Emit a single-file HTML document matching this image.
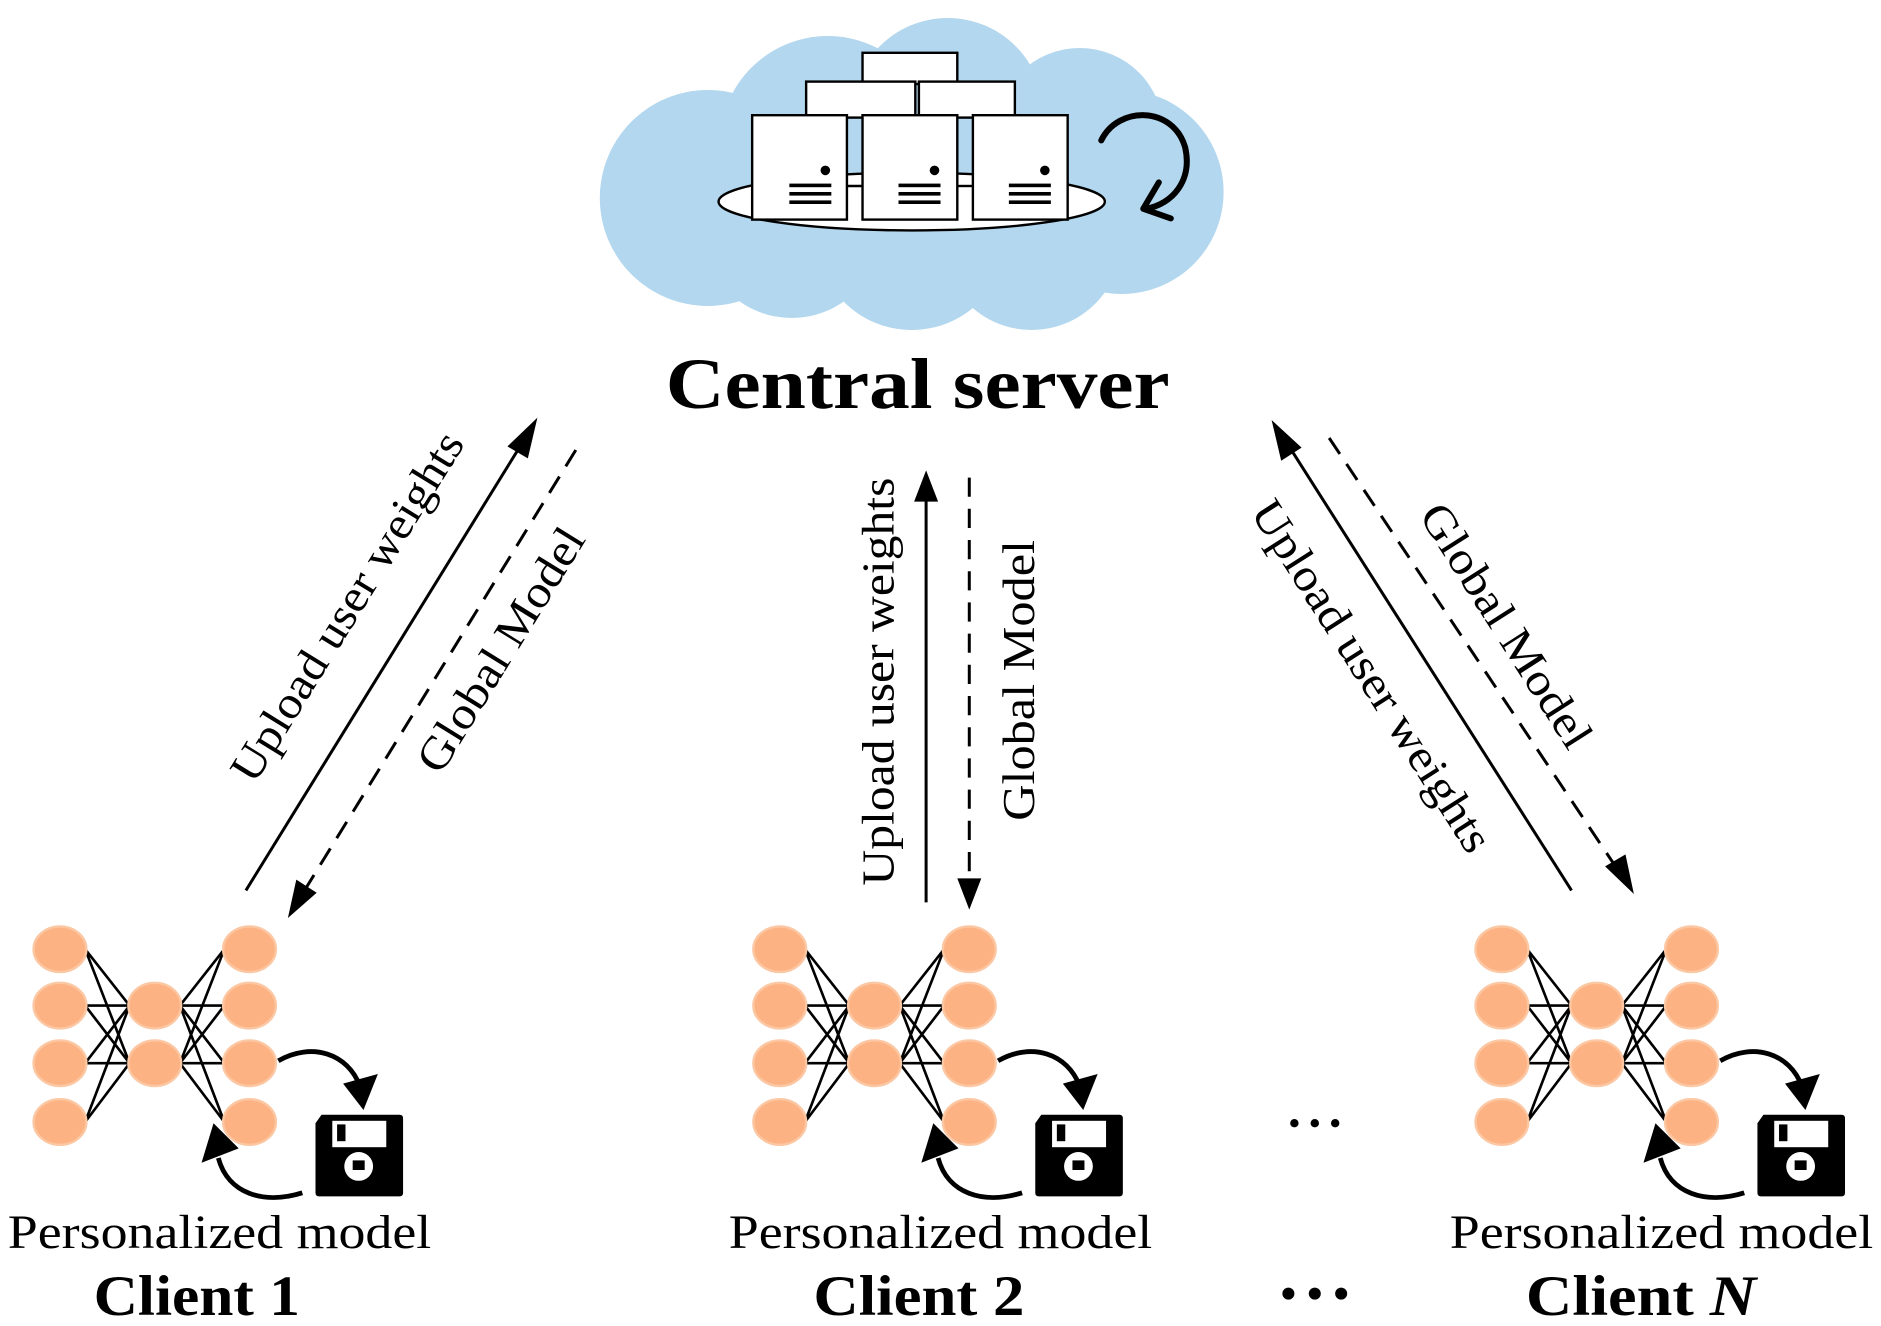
<!DOCTYPE html>
<html><head><meta charset="utf-8"><style>
html,body{margin:0;padding:0;background:#fff;width:1881px;height:1326px;overflow:hidden}
svg{display:block}
text{font-family:"Liberation Serif",serif;fill:#000}
</style></head><body>
<svg width="1881" height="1326" viewBox="0 0 1568 1105" preserveAspectRatio="none" xmlns="http://www.w3.org/2000/svg">
<defs>
<g id="net">
 <g stroke="#000" stroke-width="2.2" fill="none">
  <path d="M71,791 L108,838 M71,791 L108,886 M71,838 L108,838 M71,838 L108,886 M71,886 L108,838 M71,886 L108,886 M71,935 L108,838 M71,935 L108,886"/>
  <path d="M187,791 L150,838 M187,791 L150,886 M187,838 L150,838 M187,838 L150,886 M187,886 L150,838 M187,886 L150,886 M187,935 L150,838 M187,935 L150,886"/>
 </g>
 <g fill="#fdb283" stroke="#fcc7a3" stroke-width="2">
  <ellipse cx="50" cy="791" rx="22" ry="19"/><ellipse cx="50" cy="838" rx="22" ry="19"/>
  <ellipse cx="50" cy="886" rx="22" ry="19"/><ellipse cx="50" cy="935" rx="22" ry="19"/>
  <ellipse cx="129" cy="838" rx="22" ry="19"/><ellipse cx="129" cy="886" rx="22" ry="19"/>
  <ellipse cx="208" cy="791" rx="22" ry="19"/><ellipse cx="208" cy="838" rx="22" ry="19"/>
  <ellipse cx="208" cy="886" rx="22" ry="19"/><ellipse cx="208" cy="935" rx="22" ry="19"/>
 </g>
 <path d="M232,884 C260,868 290,878 300,905" stroke="#000" stroke-width="4" fill="none"/>
 <polygon points="286,903 315,895 303,925" fill="#000"/>
 <path d="M252,994 C220,1004 190,995 182,965" stroke="#000" stroke-width="4" fill="none"/>
 <polygon points="168,969 199,957 178,936" fill="#000"/>
 <path d="M268,929 L333,929 Q336,929 336,932 L336,994 Q336,997 333,997 L266,997 Q263,997 263,994 L263,936 Z" fill="#000"/>
 <rect x="277" y="934" width="45" height="22" fill="#fff"/>
 <rect x="281" y="937" width="7" height="14" fill="#000"/>
 <circle cx="299" cy="972" r="12" fill="#fff"/>
 <rect x="294" y="967" width="10" height="8" fill="#000"/>
</g>
</defs>

<g fill="#b3d7ee">
 <circle cx="590" cy="165" r="90"/>
 <circle cx="690" cy="120" r="90"/>
 <circle cx="790" cy="95" r="80"/>
 <circle cx="900" cy="110" r="70"/>
 <circle cx="935" cy="160" r="85"/>
 <circle cx="760" cy="195" r="80"/>
 <circle cx="660" cy="190" r="75"/>
 <circle cx="860" cy="200" r="75"/>
 <ellipse cx="760" cy="160" rx="200" ry="90"/>
</g>
<g stroke="#000" stroke-width="2" fill="#fff">
 <ellipse cx="760" cy="168" rx="161" ry="24"/>
 <rect x="719" y="44" width="79" height="26"/>
 <rect x="672" y="68" width="91" height="30"/>
 <rect x="766" y="68" width="80" height="30"/>
 <line x1="706" y1="155" x2="719" y2="155"/>
 <line x1="798" y1="155" x2="811" y2="155"/>
 <rect x="627" y="96" width="79" height="87"/>
 <rect x="719" y="96" width="79" height="87"/>
 <rect x="811" y="96" width="79" height="87"/>
</g>
<g fill="#000">
 <circle cx="688" cy="142" r="4"/><rect x="658" y="153" width="35" height="3"/><rect x="658" y="160" width="35" height="3"/><rect x="658" y="167" width="35" height="3"/>
 <circle cx="779" cy="142" r="4"/><rect x="749" y="153" width="35" height="3"/><rect x="749" y="160" width="35" height="3"/><rect x="749" y="167" width="35" height="3"/>
 <circle cx="871" cy="142" r="4"/><rect x="841" y="153" width="35" height="3"/><rect x="841" y="160" width="35" height="3"/><rect x="841" y="167" width="35" height="3"/>
</g>
<path d="M918,117 C932,88 978,88 988,123 C994,150 978,170 955,174" stroke="#000" stroke-width="5" fill="none" stroke-linecap="round"/>
<path d="M966,152 L953,174 L976,182" stroke="#000" stroke-width="5" fill="none" stroke-linecap="round" stroke-linejoin="round"/>

<text x="765" y="340" font-size="60" font-weight="bold" text-anchor="middle" textLength="420" lengthAdjust="spacingAndGlyphs">Central server</text>

<line x1="205" y1="742" x2="436" y2="368" stroke="#000" stroke-width="2.5"/>
<polygon points="448,348 423,372 440,382" fill="#000"/>
<line x1="480" y1="375" x2="252" y2="745" stroke="#000" stroke-width="2.5" stroke-dasharray="16,10"/>
<polygon points="240,765 247,733 264,744" fill="#000"/>
<text transform="translate(300,512) rotate(-58.3)" font-size="38" text-anchor="middle" textLength="335" lengthAdjust="spacingAndGlyphs">Upload user weights</text>
<text transform="translate(428,548) rotate(-58.3)" font-size="38" text-anchor="middle" textLength="232" lengthAdjust="spacingAndGlyphs">Global Model</text>

<line x1="772" y1="752" x2="772" y2="412" stroke="#000" stroke-width="2.5"/>
<polygon points="772,392 762,418 782,418" fill="#000"/>
<line x1="808" y1="398" x2="808" y2="738" stroke="#000" stroke-width="2.5" stroke-dasharray="16,10"/>
<polygon points="808,758 798,732 818,732" fill="#000"/>
<text transform="translate(745,568) rotate(-90)" font-size="38" text-anchor="middle" textLength="340" lengthAdjust="spacingAndGlyphs">Upload user weights</text>
<text transform="translate(862,567) rotate(-90)" font-size="38" text-anchor="middle" textLength="234" lengthAdjust="spacingAndGlyphs">Global Model</text>

<line x1="1310" y1="742" x2="1072" y2="368" stroke="#000" stroke-width="2.5"/>
<polygon points="1060,350 1085,373 1068,384" fill="#000"/>
<line x1="1108" y1="365" x2="1350" y2="727" stroke="#000" stroke-width="2.5" stroke-dasharray="16,10"/>
<polygon points="1362,745 1338,722 1355,712" fill="#000"/>
<text transform="translate(1133,570) rotate(57.5)" font-size="38" text-anchor="middle" textLength="340" lengthAdjust="spacingAndGlyphs">Upload user weights</text>
<text transform="translate(1245,528) rotate(57.5)" font-size="38" text-anchor="middle" textLength="234" lengthAdjust="spacingAndGlyphs">Global Model</text>

<use href="#net"/>
<use href="#net" transform="translate(600,0)"/>
<use href="#net" transform="translate(1202,0)"/>

<text x="183" y="1040" font-size="40" text-anchor="middle" textLength="353" lengthAdjust="spacingAndGlyphs">Personalized model</text>
<text x="784" y="1040" font-size="40" text-anchor="middle" textLength="353" lengthAdjust="spacingAndGlyphs">Personalized model</text>
<text x="1385" y="1040" font-size="40" text-anchor="middle" textLength="353" lengthAdjust="spacingAndGlyphs">Personalized model</text>
<text x="164" y="1096" font-size="48" font-weight="bold" text-anchor="middle" textLength="172" lengthAdjust="spacingAndGlyphs">Client 1</text>
<text x="766" y="1096" font-size="48" font-weight="bold" text-anchor="middle" textLength="176" lengthAdjust="spacingAndGlyphs">Client 2</text>
<text x="1368" y="1096" font-size="48" font-weight="bold" text-anchor="middle" textLength="192" lengthAdjust="spacingAndGlyphs">Client <tspan font-style="italic">N</tspan></text>

<g fill="#000">
 <circle cx="1079" cy="936" r="3.5"/><circle cx="1096" cy="936" r="3.5"/><circle cx="1113" cy="936" r="3.5"/>
 <circle cx="1074" cy="1078" r="5"/><circle cx="1096" cy="1078" r="5"/><circle cx="1118" cy="1078" r="5"/>
</g>
</svg>
</body></html>
